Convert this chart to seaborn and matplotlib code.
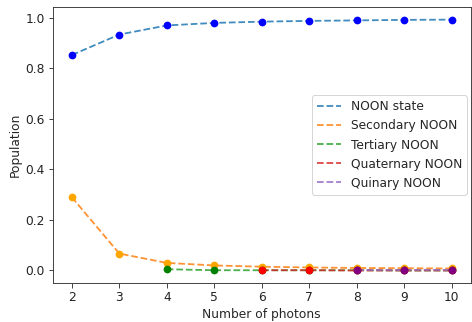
import numpy as np
import pandas as pd
import matplotlib
matplotlib.use("Agg")
import matplotlib.pyplot as plt
import seaborn as sns

photons = [2, 3, 4, 5, 6, 7, 8, 9, 10]
noon = [0.853, 0.934, 0.970, 0.980, 0.985, 0.988, 0.990, 0.992, 0.993]
secondary = [0.290, 0.067, 0.030, 0.020, 0.015, 0.012, 0.010, 0.009, 0.008]
tertiary_n = [4, 5, 6, 7, 8, 9, 10]
tertiary = [0.005, 0.001, 0.001, 0.001, 0.001, 0.000, 0.000]
quaternary_n = [6, 7, 8, 9, 10]
quaternary = [0.001, 0.001, 0.000, 0.000, 0.000]
quinary_n = [8, 9, 10]
quinary = [0.000, 0.000, 0.000]

series = [
    ("NOON state", photons, noon, "tab:blue", "blue"),
    ("Secondary NOON", photons, secondary, "tab:orange", "orange"),
    ("Tertiary NOON", tertiary_n, tertiary, "tab:green", "green"),
    ("Quaternary NOON", quaternary_n, quaternary, "tab:red", "red"),
    ("Quinary NOON", quinary_n, quinary, "tab:purple", "purple"),
]

FS = 12.2
sns.set_style("ticks")
plt.rcParams["font.family"] = ["DejaVu Sans"]
plt.rcParams["font.size"] = FS

fig, ax = plt.subplots(figsize=(472 / 72, 322 / 72), dpi=72)
fig.subplots_adjust(left=0.112, right=0.997, top=0.978, bottom=0.121)

for label, xs, ys, lc, mc in series:
    df = pd.DataFrame({"n": xs, "p": ys})
    sns.lineplot(data=df, x="n", y="p", ax=ax, color=lc, linestyle="--",
                 label=label, linewidth=1.8, alpha=0.85)
    sns.scatterplot(data=df, x="n", y="p", ax=ax, color=mc, s=60,
                    edgecolor=mc, linewidth=0, zorder=3)

ax.set_xlabel("Number of photons", fontsize=FS)
ax.set_ylabel("Population", fontsize=FS)
ax.set_xticks(photons)
ax.set_yticks([0.0, 0.2, 0.4, 0.6, 0.8, 1.0])
for s in ax.spines.values():
    s.set_color("#333333")
    s.set_linewidth(0.9)
ax.tick_params(colors="#333333", labelcolor="#222222", labelsize=FS,
               length=4.5, width=0.9)
ax.legend(loc="center right", frameon=True, fontsize=FS, borderaxespad=0.3)

fig.savefig("out.png", dpi=72)
